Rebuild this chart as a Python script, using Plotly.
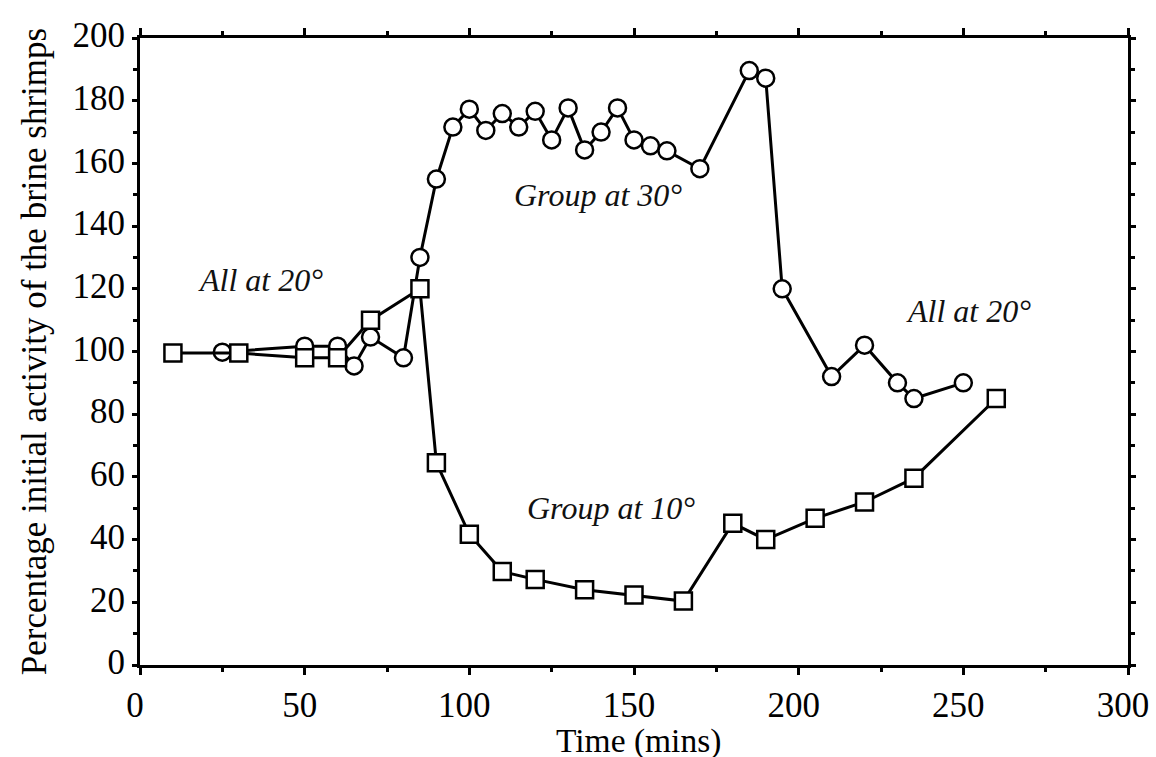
import plotly.graph_objects as go

# Group moved to 30 degrees (circles)
warm_time = [25, 50, 60, 65, 70, 80, 85, 90, 95, 100, 105, 110, 115, 120, 125, 130,
             135, 140, 145, 150, 155, 160, 170, 185, 190, 195, 210, 220, 230, 235, 250]
warm_activity = [99.8, 101.7, 101.7, 95.4, 104.6, 98, 130, 155, 171.6, 177.3, 170.5,
                 175.9, 171.6, 176.6, 167.5, 177.7, 164.3, 170, 177.7, 167.5, 165.6,
                 164, 158.3, 189.6, 187.2, 120, 92, 102, 90, 85, 90]

# Group moved to 10 degrees (squares)
cold_time = [10, 30, 50, 60, 70, 85, 90, 100, 110, 120, 135, 150, 165, 180, 190,
             205, 220, 235, 260]
cold_activity = [99.5, 99.5, 98, 98, 110, 120, 64.5, 41.7, 29.8, 27.3, 24, 22.3, 20.4,
                 45.2, 40, 46.8, 52, 59.6, 85]

# Text labels on the plot
label_text = ["Group at 30°", "Group at 10°", "All at 20°", "All at 20°"]
label_x = [139, 143, 36.5, 251.5]
label_y = [150, 50, 122.8, 113]

FONT = "Liberation Serif"

fig = go.Figure()
fig.add_trace(
    go.Scatter(
        x=warm_time,
        y=warm_activity,
        mode="lines+markers",
        line=dict(color="black", width=3),
        marker=dict(symbol="circle", size=17, color="white",
                    line=dict(color="black", width=2.5)),
        showlegend=False,
    )
)
fig.add_trace(
    go.Scatter(
        x=cold_time,
        y=cold_activity,
        mode="lines+markers",
        line=dict(color="black", width=3),
        marker=dict(symbol="square", size=17, color="white",
                    line=dict(color="black", width=2.5)),
        showlegend=False,
    )
)

for txt, x, y in zip(label_text, label_x, label_y):
    fig.add_annotation(
        x=x, y=y, text=f"<i>{txt}</i>", showarrow=False,
        font=dict(family=FONT, size=32, color="#111"),
    )

# x-axis title as an annotation so it can sit below the margin limit
fig.add_annotation(
    x=151.5, xref="x", y=-0.122, yref="paper", yanchor="middle",
    text="Time (mins)", showarrow=False,
    font=dict(family=FONT, size=33.5, color="black"),
)

axis_common = dict(
    showline=True,
    linecolor="black",
    linewidth=3,
    mirror="ticks",
    ticks="outside",
    tickwidth=3,
    tickcolor="black",
    showgrid=False,
    zeroline=False,
    automargin=False,
    ticklabeloverflow="allow",
    tickfont=dict(family=FONT, size=35, color="black"),
)

fig.update_xaxes(
    range=[0, 300],
    dtick=50,
    ticklen=7,
    ticklabelshift=-5,
    minor=dict(dtick=25, ticks="outside", ticklen=4, tickwidth=3, tickcolor="black"),
    **axis_common,
)
fig.update_yaxes(
    range=[0, 200],
    dtick=20,
    ticklen=5,
    ticklabelshift=-3,
    minor=dict(dtick=10, ticks="outside", ticklen=4, tickwidth=3, tickcolor="black"),
    title=dict(text="Percentage initial activity of the brine shrimps",
               font=dict(family=FONT, size=35, color="black"), standoff=16),
    **axis_common,
)

fig.update_layout(
    width=1156,
    height=757,
    margin=dict(l=140, r=28, t=38, b=92),
    plot_bgcolor="white",
    paper_bgcolor="white",
)

# drop the default page margin so the figure fills the window exactly
fig.write_html(
    "out.html",
    config={"displayModeBar": False},
    post_script="document.body.style.margin = '0';",
)
